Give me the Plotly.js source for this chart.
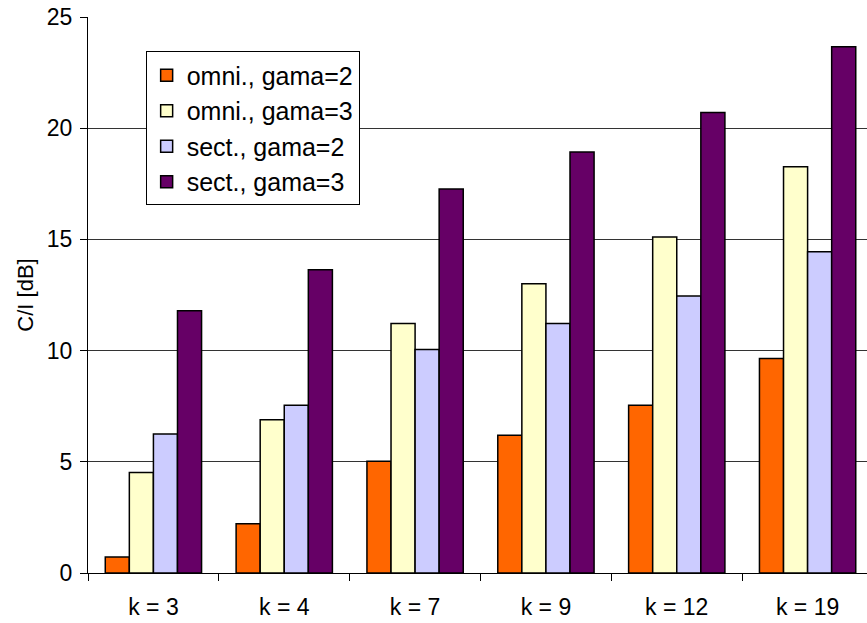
<!DOCTYPE html>
<html>
<head>
<meta charset="utf-8">
<script src="https://cdn.plot.ly/plotly-3.0.1.min.js"></script>
<style>
  html, body { margin: 0; padding: 0; background: #fff; }
  #chart { width: 867px; height: 623px; }
</style>
</head>
<body>
<div id="chart"></div>
<script>
// Cluster sizes (reuse factor k)
const categories = ['k = 3', 'k = 4', 'k = 7', 'k = 9', 'k = 12', 'k = 19'];

// C/I in dB per antenna type and path-loss exponent
const omniGama2 = [0.72, 2.22, 5.02, 6.19, 7.54, 9.64];
const omniGama3 = [4.52, 6.89, 11.22, 13.01, 15.11, 18.27];
const sectGama2 = [6.25, 7.54, 10.05, 11.22, 12.45, 14.45];
const sectGama3 = [11.79, 13.64, 17.27, 18.93, 20.71, 23.66];

const seriesNames = ['omni., gama=2', 'omni., gama=3', 'sect., gama=2', 'sect., gama=3'];
const seriesValues = [omniGama2, omniGama3, sectGama2, sectGama3];
const seriesColors = ['#FF6600', '#FFFFCC', '#CCCCFF', '#660066'];

const FONT = 'Liberation Sans, Arial, sans-serif';

const traces = seriesValues.map((vals, i) => ({
  type: 'bar',
  name: seriesNames[i],
  x: categories,
  y: vals,
  marker: { color: seriesColors[i], line: { color: '#000', width: 1.5 } },
  hoverinfo: 'x+y+name'
}));

const layout = {
  width: 867,
  height: 623,
  margin: { l: 88, r: 0, t: 17, b: 50, pad: 0 },
  paper_bgcolor: '#fff',
  plot_bgcolor: '#fff',
  barmode: 'group',
  bargap: 0.264,
  bargroupgap: 0,
  font: { family: FONT, color: '#000', size: 23 },
  xaxis: {
    type: 'category',
    range: [-0.5, 5.454],
    showgrid: false,
    showline: true,
    linecolor: '#000',
    linewidth: 1,
    ticks: 'outside',
    tickson: 'boundaries',
    ticklen: 7,
    tickcolor: '#000',
    ticklabelstandoff: 13,
    tickfont: { family: FONT, size: 23, color: '#000' },
    zeroline: false,
    fixedrange: true
  },
  yaxis: {
    range: [0, 25],
    tickvals: [0, 5, 10, 15, 20, 25],
    showgrid: true,
    gridcolor: '#333',
    gridwidth: 1,
    showline: true,
    linecolor: '#000',
    linewidth: 1,
    ticks: 'outside',
    ticklen: 7,
    tickcolor: '#000',
    ticklabelstandoff: 3,
    tickfont: { family: FONT, size: 23, color: '#000' },
    zeroline: false,
    title: { text: 'C/I [dB]', font: { family: FONT, size: 22, color: '#000' }, standoff: 7 },
    automargin: false,
    fixedrange: true
  },
  showlegend: true,
  legend: {
    x: 0.074,
    y: 0.938,
    xanchor: 'left',
    yanchor: 'top',
    bgcolor: '#fff',
    bordercolor: '#000',
    borderwidth: 1,
    traceorder: 'normal',
    font: { family: FONT, size: 25, color: '#000' }
  }
};

Plotly.newPlot('chart', traces, layout, { displayModeBar: false, staticPlot: true });
</script>
</body>
</html>
